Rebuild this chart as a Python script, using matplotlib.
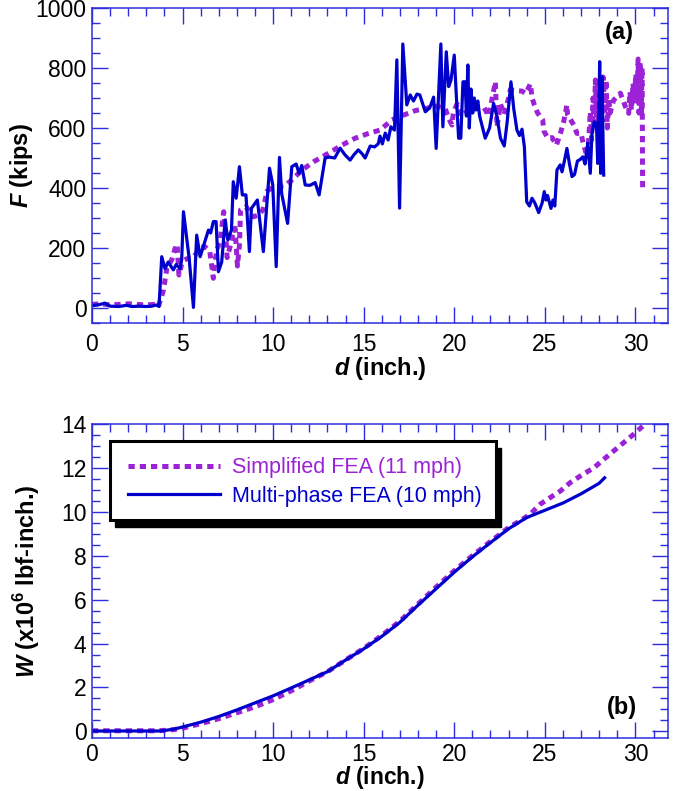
import numpy as np
import matplotlib
matplotlib.use("Agg")
import matplotlib.pyplot as plt
from matplotlib.patches import Rectangle
from matplotlib.ticker import MultipleLocator

# force-displacement histories (d in inch, F in kips)
d_multi = [0, 0.3, 0.72, 1.0, 1.5, 1.9, 2.2, 2.6, 3.0, 3.3, 3.55, 3.7, 3.85, 4.03, 4.2, 4.35,
           4.49, 4.65, 4.86, 4.95, 5.05, 5.36, 5.6, 5.78, 5.97, 6.2, 6.43, 6.55, 6.7, 6.85,
           6.98, 7.16, 7.35, 7.5, 7.7, 7.8, 7.96, 8.14, 8.3, 8.5, 8.69, 8.8, 9.13, 9.46,
           9.8, 9.98, 10.17, 10.35, 10.47, 10.8, 11.03, 11.27, 11.43, 11.58, 11.77, 12.04,
           12.32, 12.54, 12.87, 13.1, 13.4, 13.7, 13.96, 14.25, 14.45, 14.7, 14.9, 15.08,
           15.36, 15.6, 15.8, 15.9, 16.03, 16.19, 16.35, 16.5, 16.7, 16.83, 16.98, 17.16,
           17.38, 17.57, 17.75, 17.94, 18.1, 18.4, 18.65, 18.86, 19.0, 19.26, 19.37, 19.56,
           19.69, 19.82, 20.0, 20.12, 20.24, 20.36, 20.48, 20.6, 20.67, 20.75, 20.83, 20.92,
           21.02, 21.1, 21.2, 21.3, 21.4, 21.71, 21.95, 22.17, 22.35, 22.55, 22.76, 22.92,
           23.13, 23.28, 23.46, 23.6, 23.74, 23.87, 24.0, 24.15, 24.29, 24.45, 24.66, 24.85,
           24.97, 25.06, 25.15, 25.34, 25.45, 25.55, 25.67, 25.85, 25.95, 26.08, 26.22, 26.36,
           26.5, 26.64, 26.8, 26.95, 27.1, 27.22, 27.37, 27.51, 27.6, 27.73, 27.85, 27.92,
           28.03, 28.08, 28.15, 28.25]
F_multi = [8, 10, 16, 6, 5, 9, 5, 6, 5, 6, 10, 5, 171, 131, 153, 140,
           127, 145, 131, 160, 321, 168, 2, 243, 171, 215, 260, 250, 288, 288,
           121, 153, 293, 227, 260, 421, 366, 471, 377, 377, 188, 332, 360, 188,
           466, 410, 138, 502, 382, 282, 471, 480, 449, 475, 410, 409,
           418, 377, 500, 503, 500, 533, 511, 493, 510, 527, 515, 500,
           540, 537, 547, 573, 547, 583, 560, 604, 593, 827, 333, 880,
           677, 710, 690, 713, 710, 654, 668, 703, 532, 880, 604, 854,
           738, 760, 843, 700, 566, 566, 754, 754, 640, 810, 600, 730,
           650, 700, 660, 690, 640, 566, 600, 682, 640, 566, 540, 620,
           754, 666, 593, 575, 596, 538, 354, 340, 366, 350, 318, 350,
           388, 360, 375, 332, 360, 340, 460, 477, 454, 490, 532, 480,
           438, 445, 490, 495, 504, 480, 549, 449, 580, 621, 615, 482,
           821, 449, 771, 443]

d_simp = [0, 0.5, 1.0, 1.5, 2.0, 2.5, 3.0, 3.4, 3.66, 3.94, 4.14, 4.4, 4.59, 4.7, 4.8, 4.95,
          5.1, 5.32, 5.6, 5.97, 6.24, 6.5, 6.7, 6.76, 6.9, 7.07, 7.27, 7.35, 7.46, 7.62,
          7.75, 7.9, 8.03, 8.14, 8.2, 8.5, 8.9, 9.2, 9.43, 9.67, 10.0, 10.66, 11.0, 11.6,
          12.25, 13.06, 13.8, 14.53, 15.27, 15.9, 16.56, 17.2, 17.85, 18.49, 19.04, 19.5,
          19.69, 19.87, 19.95, 20.15, 20.35, 21.0, 21.62, 21.9, 22.27, 22.3, 22.36, 22.55,
          22.75, 23.0, 23.09, 23.4, 23.74, 23.95, 24.2, 24.3, 24.42, 24.6, 24.88, 24.95,
          25.16, 25.4, 25.64, 25.86, 26.04, 26.22, 26.25, 26.4, 26.6, 26.77, 27.0, 27.1,
          27.33, 27.4, 27.51, 27.58, 27.66, 27.72, 27.79, 27.86, 27.92, 28.0, 28.08, 28.15,
          28.22, 28.3, 28.38, 28.45, 28.53, 28.6, 28.8, 29.17, 29.45, 29.63, 29.7, 29.78,
          29.87, 29.95, 30.02, 30.09, 30.15, 30.2, 30.26, 30.32, 30.37, 30.4]
F_simp = [12, 14, 10, 12, 14, 12, 10, 12, 4, 58, 135, 160, 199, 212, 110, 146,
          160, 166, 168, 202, 204, 190, 99, 143, 195, 221, 321, 270, 168, 204,
          240, 266, 140, 210, 327, 338, 304, 310, 327, 390, 402, 408, 425, 460,
          488, 516, 543, 566, 582, 593, 627, 643, 658, 666, 673, 665,
          632, 610, 650, 680, 640, 668, 671, 640, 754, 700, 604, 680,
          645, 700, 727, 725, 723, 715, 747, 700, 677, 650, 627, 590,
          566, 568, 543, 582, 621, 677, 645, 630, 610, 582, 582, 554,
          504, 540, 654, 560, 700, 600, 760, 640, 770, 600, 740, 620,
          770, 660, 760, 600, 700, 650, 693, 716, 671, 649, 720, 660,
          749, 690, 780, 700, 830, 650, 820, 640, 800, 393]

# cumulative work (x10^6 lbf-inch)
dw_multi = [0, 3.8, 4.5, 5, 6, 7, 8, 9, 10, 11, 12, 13, 14, 15, 16, 17, 18, 19, 20,
            21, 22, 23, 24, 25, 26, 27, 28, 28.3]
W_multi = [0.02, 0.02, 0.1, 0.2, 0.42, 0.68, 0.98, 1.3, 1.62, 1.98, 2.35, 2.72, 3.25,
           3.76, 4.33, 4.97, 5.75, 6.5, 7.25, 7.95, 8.6, 9.23, 9.74, 10.07, 10.4, 10.82,
           11.3, 11.55]
dw_simp = [0, 3.7, 4.5, 5, 6, 7, 8, 9, 10, 11, 12, 13, 14, 15, 16, 17, 18, 19, 20, 21,
           22, 23, 23.65, 24.2, 24.75, 25.3, 25.86, 26.4, 27.05, 27.7, 28.25, 28.8, 29.35,
           29.9, 30.4, 30.6]
W_simp = [0.03, 0.03, 0.08, 0.15, 0.35, 0.58, 0.85, 1.12, 1.45, 1.85, 2.3, 2.72, 3.25,
          3.78, 4.37, 5.02, 5.8, 6.57, 7.32, 8.0, 8.65, 9.28, 9.6, 9.9, 10.35, 10.65,
          10.95, 11.33, 11.68, 12.0, 12.39, 12.77, 13.15, 13.53, 13.9, 14.05]

labels = ["Simplified FEA (11 mph)", "Multi-phase FEA (10 mph)"]

purple = "#9b22d6"
blue = "#0000cd"
frame = "#2d2de0"

plt.rcParams["font.family"] = ["Liberation Sans", "DejaVu Sans"]
plt.rcParams["mathtext.fontset"] = "custom"
plt.rcParams["mathtext.rm"] = "Liberation Sans:bold"
plt.rcParams["mathtext.bf"] = "Liberation Sans:italic:bold"

W_px, H_px = 676, 791
fig = plt.figure(figsize=(W_px / 100, H_px / 100), dpi=100)
ax1 = fig.add_axes([92 / W_px, 1 - 323 / H_px, 576 / W_px, 315 / H_px])
ax2 = fig.add_axes([92 / W_px, 1 - 738 / H_px, 576 / W_px, 314 / H_px])

dash = (0, (1.25, 1.0))

ax1.plot(d_simp, F_simp, color=purple, lw=3.6, linestyle=dash, label=labels[0])
ax1.plot(d_multi, F_multi, color=blue, lw=2.3, label=labels[1])
ax2.plot(dw_simp, W_simp, color=purple, lw=3.6, linestyle=dash, label=labels[0])
ax2.plot(dw_multi, W_multi, color=blue, lw=2.3, label=labels[1])

ax1.set_xlim(0, 31.8)
ax1.set_ylim(-50, 1000)
ax2.set_xlim(0, 31.8)
ax2.set_ylim(-0.3, 14)

ax1.yaxis.set_major_locator(MultipleLocator(200))
ax1.yaxis.set_minor_locator(MultipleLocator(50))
ax2.yaxis.set_major_locator(MultipleLocator(2))
ax2.yaxis.set_minor_locator(MultipleLocator(0.5))

for ax in (ax1, ax2):
    ax.xaxis.set_major_locator(MultipleLocator(5))
    ax.xaxis.set_minor_locator(MultipleLocator(1))
    for s in ax.spines.values():
        s.set_color(frame)
        s.set_linewidth(1.1)
    ax.tick_params(which="both", direction="in", top=True, right=True,
                   color=frame, width=1.0, labelsize=16.5)
    ax.tick_params(which="major", length=11.5)
    ax.tick_params(which="minor", length=5.8)
    ax.tick_params(axis="y", pad=4)
ax1.tick_params(axis="x", pad=7)
ax2.tick_params(axis="x", pad=3.5)

ax1.set_ylabel(r"$\mathbf{F}$ (kips)", fontsize=17, fontweight="bold")
ax1.set_xlabel(r"$\mathbf{d}$ (inch.)", fontsize=17, fontweight="bold")
ax2.set_ylabel(r"$\mathbf{W}$ (x10$^{6}$ lbf-inch.)", fontsize=17, fontweight="bold")
ax2.set_xlabel(r"$\mathbf{d}$ (inch.)", fontsize=16.5, fontweight="bold")
ax1.yaxis.set_label_coords(-0.099, 0.5)
ax2.yaxis.set_label_coords(-0.087, 0.5)
ax1.xaxis.set_label_coords(0.5, -0.1)
ax2.xaxis.set_label_coords(0.5, -0.082)

ax1.text(0.915, 0.921, "(a)", transform=ax1.transAxes, fontsize=17,
         fontweight="bold", ha="center", va="center")
ax2.text(0.92, 0.096, "(b)", transform=ax2.transAxes, fontsize=17,
         fontweight="bold", ha="center", va="center")

# legend frame with a solid drop shadow
bx, by, bw, bh = 110, 520, 386, 79
fig.add_artist(Rectangle(((bx + 5) / W_px, 1 - (by + 7) / H_px), bw / W_px, bh / H_px,
                         transform=fig.transFigure, facecolor="black",
                         edgecolor="black", zorder=3))
fig.add_artist(Rectangle((bx / W_px, 1 - by / H_px), bw / W_px, bh / H_px,
                         transform=fig.transFigure, facecolor="white",
                         edgecolor="black", lw=2.2, zorder=4))
h, l = ax2.get_legend_handles_labels()
leg = fig.legend(h, l, loc="center left", bbox_to_anchor=(128 / W_px, 1 - 482 / H_px),
                 frameon=False, borderpad=0, borderaxespad=0, handlelength=4.27,
                 handletextpad=0.55, labelspacing=0.35, fontsize=15.5,
                 labelcolor="linecolor")
leg.set_zorder(5)

fig.savefig("out.png", dpi=100)
